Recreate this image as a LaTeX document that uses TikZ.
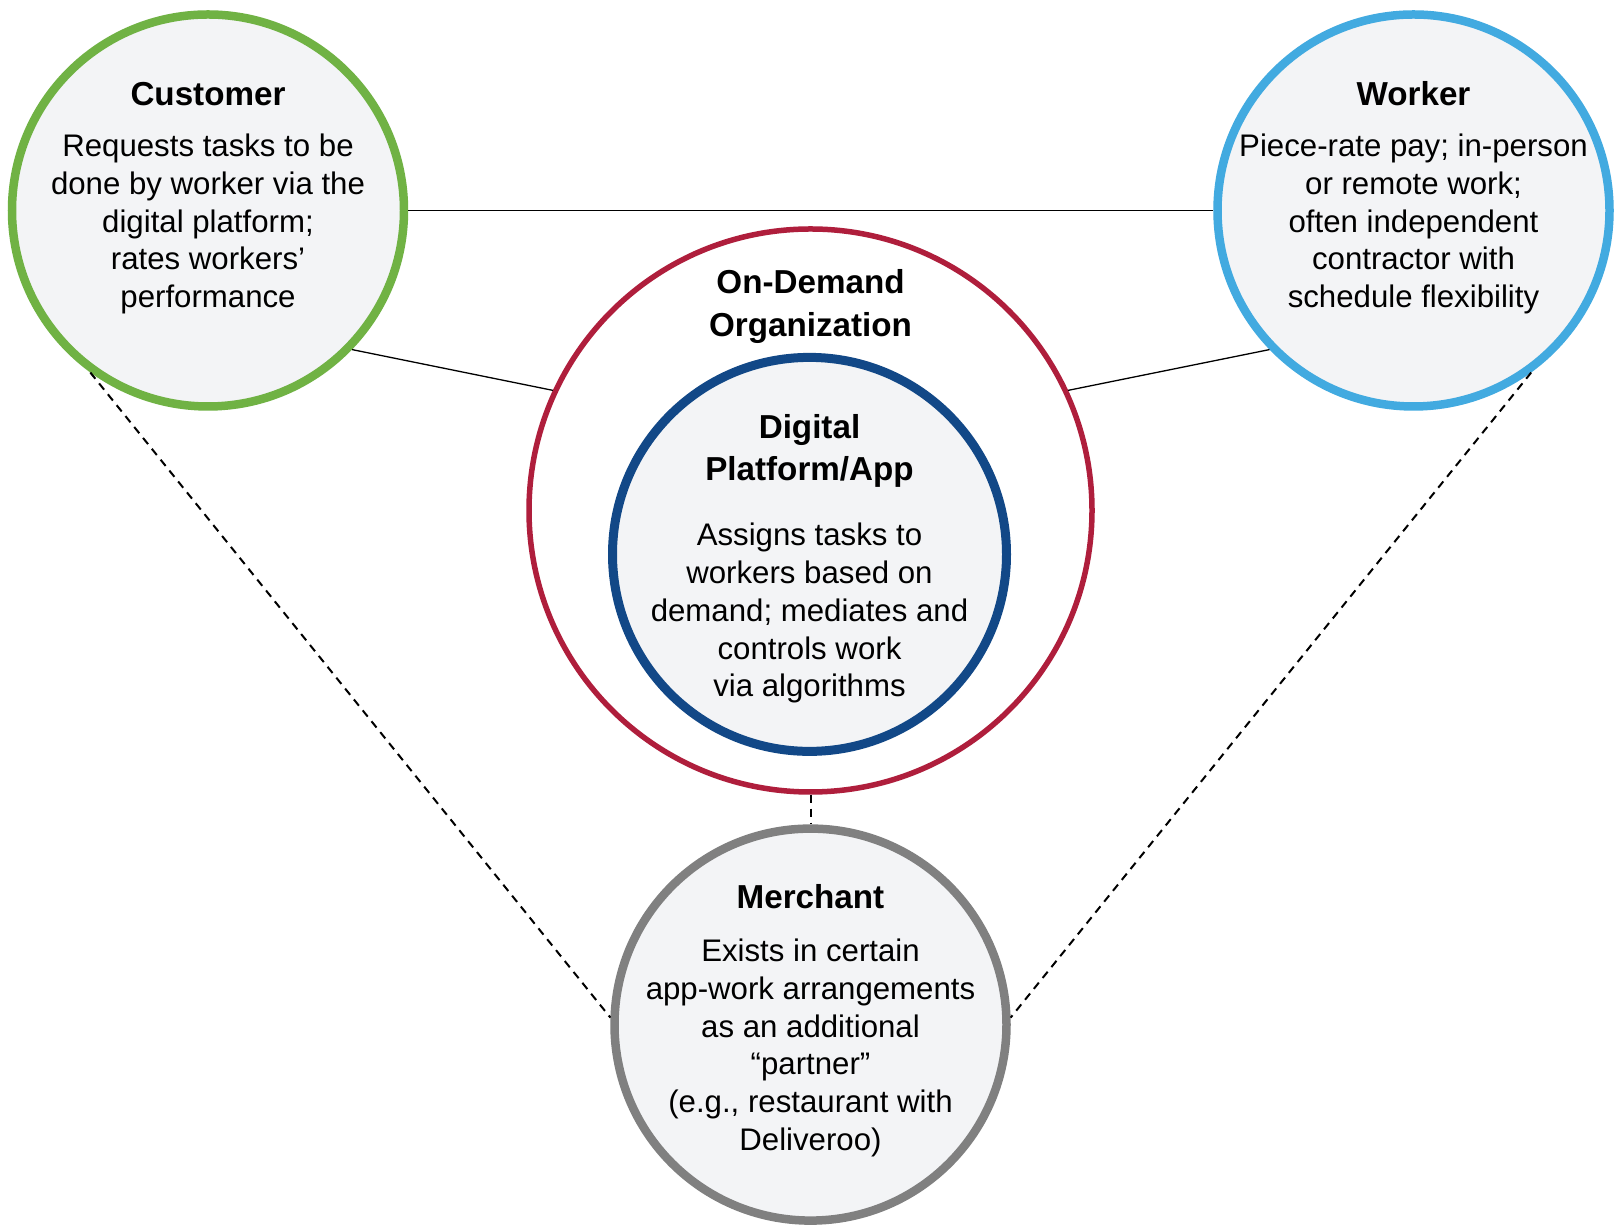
\documentclass[tikz,border=0pt]{standalone}
\usepackage{fontspec}
\setmainfont{Liberation Sans}
\definecolor{cgreen}{RGB}{112,178,68}
\definecolor{cltblue}{RGB}{66,170,224}
\definecolor{cred}{RGB}{175,30,60}
\definecolor{cdkblue}{RGB}{18,72,135}
\definecolor{cgray}{RGB}{128,128,128}
\definecolor{cfill}{RGB}{243,244,246}
\begin{document}
\begin{tikzpicture}[x=1pt,y=1pt,
  ring/.style={circle, inner sep=0pt, fill=cfill, line width=8.5pt, minimum size=392pt},
  body/.style={align=center, font=\fontsize{31.2}{37.7}\selectfont, inner sep=0pt},
  ttl/.style={align=center, font=\bfseries\fontsize{33.2}{42.4}\selectfont, inner sep=0pt},
  thinline/.style={line width=1.3pt, black},
  dsh/.style={line width=2pt, black, dash pattern=on 8pt off 6pt}]
\useasboundingbox[fill=white] (0,0) rectangle (1622,1231);

\node[ring, draw=cgreen] (cust) at (208,1020.5) {};
\node[ring, draw=cltblue] (work) at (1413.5,1020.5) {};
\node[circle, inner sep=0pt, fill=white, draw=cred, line width=5.5pt, minimum size=563pt] (org) at (810.5,720.5) {};
\node[ring, draw=cdkblue, line width=9pt, minimum size=394pt] (plat) at (809.5,676.6) {};
\node[ring, draw=cgray] (merch) at (810.5,206.4) {};

\node[ttl] (custt) at (208,1137) {Customer};
\node[body] (custb) at (208,1007) {Requests tasks to be\\done by worker via the\\digital platform;\\rates workers’\\performance};

\node[ttl] (workt) at (1413.5,1137) {Worker};
\node[body] (workb) at (1413.5,1007) {Piece-rate pay; in-person\\or remote work;\\often independent\\contractor with\\schedule flexibility};

\node[ttl] (orgt) at (810.5,924.4) {On-Demand\\Organization};

\node[ttl] (platt) at (809.5,780) {Digital\\Platform/App};
\node[body] (platb) at (809.5,617.7) {Assigns tasks to\\workers based on\\demand; mediates and\\controls work\\via algorithms};

\node[ttl] (mercht) at (810.5,334.3) {Merchant};
\node[body] (merchb) at (810.5,183) {Exists in certain\\app-work arrangements\\as an additional\\“partner”\\(e.g., restaurant with\\Deliveroo)};

\draw[thinline] (cust.east) -- (work.west);
\draw[thinline] (cust.-44) -- (org.155);
\draw[thinline] (work.224) -- (org.25);
\draw[dsh] (cust.234) -- (merch.178);
\draw[dsh] (work.306) -- (merch.2);
\draw[dsh] (org.south) -- (merch.north);
\end{tikzpicture}
\end{document}
